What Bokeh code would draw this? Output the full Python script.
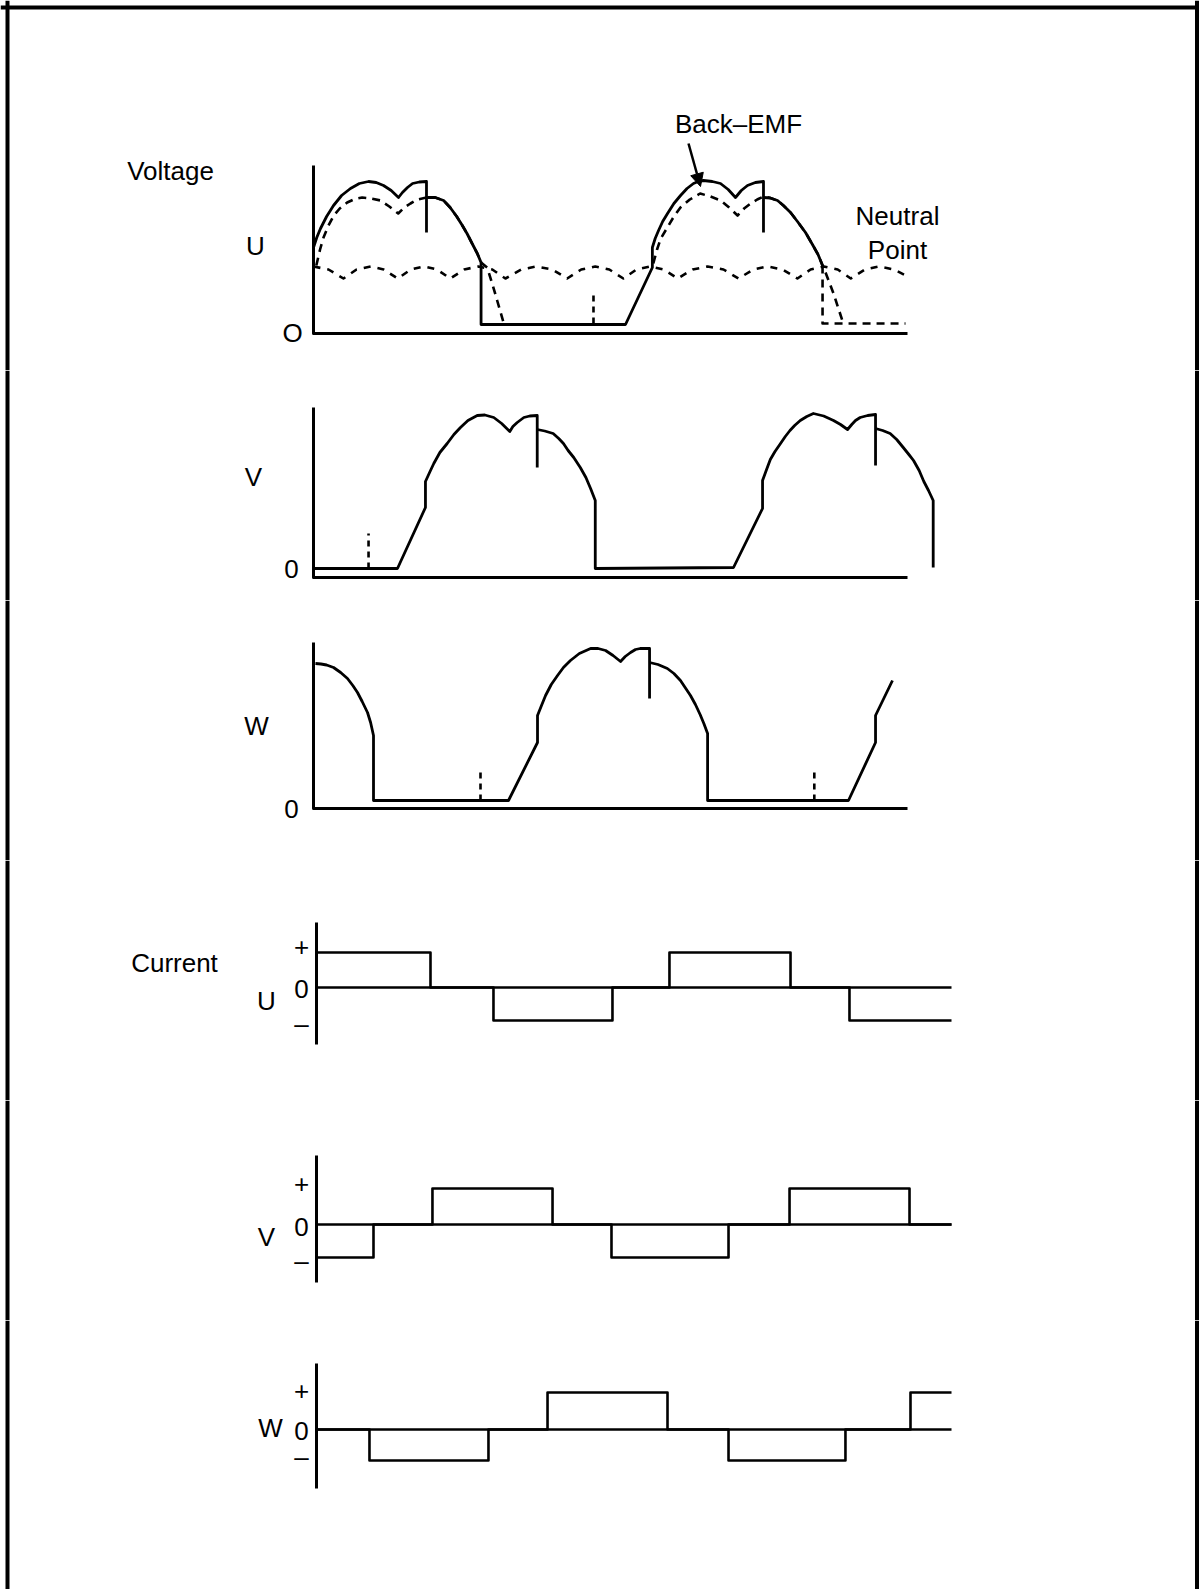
from bokeh.plotting import figure
from bokeh.layouts import column
from bokeh.models import Range1d, Span, Arrow, NormalHead
from bokeh.core.properties import value
from bokeh.embed import file_html
from bokeh.resources import INLINE

# ---------------- data: time in electrical degrees, amplitude in arbitrary units ----------------
# Phase U terminal voltage (solid pieces)
u_hump1_t = [0, 3.5, 7.5, 14, 21.4, 30, 39.5, 49, 58.8, 67, 74.8, 83, 90.8, 95, 100.4, 105.8,
             113, 120.7, 120.7]
u_hump1_v = [86, 96, 105, 117, 128, 138, 145, 150, 152, 151, 148, 143, 136, 141, 146, 150,
             151.5, 152, 101]
u_mid_t = [120.7, 130, 139, 146, 153, 159, 164, 170, 175, 179, 179, 333.3, 362, 362, 365,
           368.6, 373, 378.2, 385, 392.1, 399, 405.9, 411, 416.6, 426, 434.8, 443, 450.8, 457,
           463.6, 472, 480.7, 480.7]
u_mid_v = [136, 136, 133, 126, 117, 108, 100, 89, 80, 71, 9, 9, 66, 86, 95,
           103, 112, 120, 130, 138, 145, 150, 152, 153, 152, 150, 144, 136, 143,
           148, 151, 152, 101]
u_tail_t = [480.7, 488, 495.7, 502, 509.6, 517, 525.6, 533, 539, 543.8]
u_tail_v = [136, 135.5, 133, 128, 121, 112, 101, 89, 79, 68]
# Phase U back-EMF (dashed)
u_emf1_t = [3, 7, 10.7, 16, 21.7, 28, 36, 44, 52, 62, 71.6, 81, 90.5, 97, 103.6, 111, 120.7,
            130, 139, 146, 153, 159, 164, 170, 175, 179, 185.5, 190.9, 196.2, 203.3]
u_emf1_v = [68, 84, 96, 108, 118, 125, 131, 134.5, 136, 135, 133, 127, 120, 126, 130, 134, 136,
            136, 133, 126, 117, 108, 100, 89, 80, 71, 66, 50, 33, 10]
u_emf2_t = [363, 367, 371, 378, 385, 392, 402, 413, 424, 435, 444, 453, 460, 467, 474, 480.7,
            488, 495.7, 502, 509.6, 517, 525.6, 533, 539, 543.8, 545, 555.5, 566]
u_emf2_v = [70, 84, 95, 106, 117, 126, 134, 140, 137, 133, 126, 118, 125, 130, 134, 137,
            135.5, 133, 128, 121, 112, 101, 89, 79, 68, 66, 40, 10]
u_drop2_t = [543.8, 543.8, 632.4]
u_drop2_v = [68, 10, 10]
u_zc_t = [299.1, 299.1]
u_zc_v = [10, 43]
# Neutral point voltage (dashed ripple)
neutral_t = [0, 16, 32, 46, 61, 75, 90, 104, 118, 132, 146, 161, 176, 191, 205, 222, 238, 255,
             271, 286, 301, 316, 331, 345, 360, 374, 389, 405, 421, 438, 454, 470, 485, 501,
             517, 531, 545, 560, 574, 589, 604, 620, 635]
neutral_v = [67, 64, 55, 64, 67, 64, 55, 64, 67, 64, 55, 64, 67, 64, 55, 64, 67, 64,
             55, 64, 67, 64, 55, 64, 67, 64, 55, 64, 67, 64, 55, 64, 67, 64,
             55, 64, 67, 64, 55, 64, 67, 64, 57]

# Phase V terminal voltage
v_a_t = [0, 89.7, 119.6, 119.6, 124, 128.5, 135, 142.8, 150, 157, 165, 174.9, 183, 192.6, 201,
         209.7, 213, 217.6, 224.7, 231, 239, 239]
v_a_v = [9, 9, 70, 96, 105, 114, 125, 134, 143, 150, 157, 162, 162.5, 160, 154,
         146, 151, 155, 160, 161.5, 162, 110]
v_b_t = [239, 247, 256, 262, 267, 272, 278, 285, 291, 296, 301, 301, 448.7, 479.7, 479.7, 484,
         488, 493, 498.9, 504, 509, 514, 520, 527, 534, 545, 555.5, 563, 570.5, 575, 579, 584,
         592, 600.4, 600.4]
v_b_v = [148, 146.5, 144, 139, 134, 127, 120, 110, 100, 89, 77, 9, 10, 69, 97, 108,
         118, 126, 134, 141, 147, 152, 157, 161, 164, 161.5, 157, 153, 148, 153, 157, 160,
         162, 163, 112]
v_c_t = [600.4, 608, 616, 623, 630, 636, 641, 647, 652, 657, 662, 662]
v_c_v = [149, 147, 144, 138, 130, 123, 117, 107, 96, 87, 77, 10]
v_zc_t = [58.8, 58.8]
v_zc_v = [9, 44]

# Phase W terminal voltage
w_a_t = [2.1, 8, 14, 21.4, 29, 36.3, 42, 47, 52, 57.7, 61, 64.1, 64.1, 208.3, 239.3, 239.3, 244,
         247.9, 254, 260.7, 267, 274.5, 284, 296, 304, 312, 320, 328, 333, 338.7, 344, 349, 359,
         359]
w_a_v = [145, 144.5, 143.5, 141, 136, 130, 123, 116, 107, 96, 86, 73, 8, 8, 66, 93, 104,
         113, 124, 133, 141, 148, 155, 160, 160, 158, 153, 147, 152, 156, 159, 160, 160,
         110]
w_b_t = [359, 368, 378, 385, 392, 397, 402.7, 408, 413, 417, 421, 421, 571.5, 600.4, 600.4, 618.5]
w_b_v = [146, 144, 140, 135, 128, 121, 113, 104, 94, 85, 75, 8, 8, 66, 93, 128]
w_zc1_t = [178.4, 178.4]
w_zc1_v = [8, 41]
w_zc2_t = [535, 535]
w_zc2_v = [8, 41]

# Phase currents: switching instants (degrees) and level in each interval
cur_u_edges = [0, 116.2, 180.4, 301.7, 359.8, 483.2, 543.3, 647.3]
cur_u_levels = [35, 0, -33, 0, 35, 0, -33]
cur_v_edges = [0, 58.1, 118.2, 240.6, 300.7, 420, 482.2, 604.5, 647.3]
cur_v_levels = [-33, 0, 36, 0, -33, 0, 36, 0]
cur_w_edges = [0, 54, 175.3, 235.5, 357.8, 420, 539.2, 605.5, 647.3]
cur_w_levels = [0, -31, 0, 37, 0, -31, 0, 37]
cur_ticks = ["+", "0", "–"]

# ---------------- layout helpers ----------------
FONT = "Liberation Sans"
W = 1199
K_V, X0_V = 0.9361, 313     # voltage panels: px per degree, origin
K_C, X0_C = 0.981, 316      # current panels
TXT_DY = 10                 # baseline correction of the svg text


class Panel:
    def __init__(self, y_top, y_bot, base, k, x0):
        self.base, self.k, self.x0 = base, k, x0
        p = figure(width=W, height=y_bot - y_top, output_backend="svg", toolbar_location=None,
                   x_axis_location=None, y_axis_location=None,
                   x_range=Range1d(self.X(0), self.X(W)),
                   y_range=Range1d(self.Y(y_bot), self.Y(y_top)),
                   min_border=0, min_border_left=0, min_border_right=0,
                   min_border_top=0, min_border_bottom=0)
        p.grid.visible = False
        p.outline_line_color = None
        p.background_fill_color = "white"
        p.border_fill_color = "white"
        # outer frame, left and right edges
        for xloc in (7, 1196.5):
            p.add_layout(Span(location=self.X(xloc), dimension="height",
                              line_color="black", line_width=4))
        self.p = p

    def X(self, px):
        return (px - self.x0) / self.k

    def Y(self, py):
        return self.base - py

    def label(self, px, py, txt, align="center", size=26):
        self.p.text(x=[self.X(px)], y=[self.Y(py - TXT_DY)], text=[txt], text_align=align,
                    text_baseline="alphabetic", text_font=value(FONT),
                    text_font_size=value(f"{size}px"), text_color="black")

    def solid(self, t, v, lw=2.8):
        self.p.line(t, v, line_color="black", line_width=lw, line_join="round")

    def dashed(self, t, v, dash="8 6", lw=2.6):
        self.p.line(t, v, line_color="black", line_width=lw, line_dash=dash, line_join="round")


def voltage_axes(pan, top, end_t):
    pan.solid([0, 0, end_t], [top, 0, 0], lw=3)


def current_panel(pan, edges, levels, top, bottom, name, lab_y):
    pan.solid([0, 0], [top, bottom], lw=3)
    pan.solid([0, edges[-1]], [0, 0], lw=2.6)
    xs, ys = [], []
    for i, lev in enumerate(levels):
        xs += [edges[i], edges[i + 1]]
        ys += [lev, lev]
    pan.solid(xs, ys, lw=2.6)
    for txt, py in zip(cur_ticks, lab_y[1:]):
        pan.label(301, py, txt)
    pan.label(lab_y[0][0], lab_y[0][1], name)


# ---------------- panel U voltage (with titles) ----------------
p1 = Panel(0, 370, 333, K_V, X0_V)
p1.p.add_layout(Span(location=p1.Y(7), dimension="width", line_color="black", line_width=4))
voltage_axes(p1, 168, (907 - X0_V) / K_V)
p1.dashed(neutral_t, neutral_v, dash="7 7")
p1.dashed(u_emf1_t, u_emf1_v)
p1.dashed(u_emf2_t, u_emf2_v)
p1.dashed(u_drop2_t, u_drop2_v)
p1.dashed(u_zc_t, u_zc_v, dash="6 5")
p1.solid(u_hump1_t, u_hump1_v)
p1.solid(u_mid_t, u_mid_v)
p1.solid(u_tail_t, u_tail_v)
p1.label(170, 180, "Voltage")
p1.label(738, 133, "Back–EMF")
p1.label(897, 225, "Neutral")
p1.label(897, 259, "Point")
p1.label(255, 255, "U")
p1.label(292, 342, "O")
p1.p.add_layout(Arrow(end=NormalHead(size=13, fill_color="black", line_color="black"),
                      x_start=p1.X(688), y_start=p1.Y(143), x_end=p1.X(700), y_end=p1.Y(186),
                      line_color="black", line_width=2.5))

# ---------------- panel V voltage ----------------
p2 = Panel(370, 600, 577, K_V, X0_V)
voltage_axes(p2, 170, (907 - X0_V) / K_V)
p2.dashed(v_zc_t, v_zc_v, dash="6 5")
p2.solid(v_a_t, v_a_v)
p2.solid(v_b_t, v_b_v)
p2.solid(v_c_t, v_c_v)
p2.label(253, 486, "V")
p2.label(291, 578, "0")

# ---------------- panel W voltage ----------------
p3 = Panel(600, 860, 808, K_V, X0_V)
voltage_axes(p3, 166, (907 - X0_V) / K_V)
p3.dashed(w_zc1_t, w_zc1_v, dash="6 5")
p3.dashed(w_zc2_t, w_zc2_v, dash="6 5")
p3.solid(w_a_t, w_a_v)
p3.solid(w_b_t, w_b_v)
p3.label(256, 735, "W")
p3.label(291, 818, "0")

# ---------------- current panels ----------------
p4 = Panel(860, 1100, 987, K_C, X0_C)
current_panel(p4, cur_u_edges, cur_u_levels, 65, -57, "U", [(266, 1010), 956, 998, 1033])
p4.label(174, 972, "Current")

p5 = Panel(1100, 1320, 1224, K_C, X0_C)
current_panel(p5, cur_v_edges, cur_v_levels, 69, -58, "V", [(266, 1246), 1193, 1236, 1270])

p6 = Panel(1320, 1589, 1429, K_C, X0_C)
current_panel(p6, cur_w_edges, cur_w_levels, 66, -59, "W", [(270, 1437), 1400, 1440, 1466])

layout = column(p1.p, p2.p, p3.p, p4.p, p5.p, p6.p, spacing=0)
open("out.html", "w").write(file_html(layout, INLINE))
